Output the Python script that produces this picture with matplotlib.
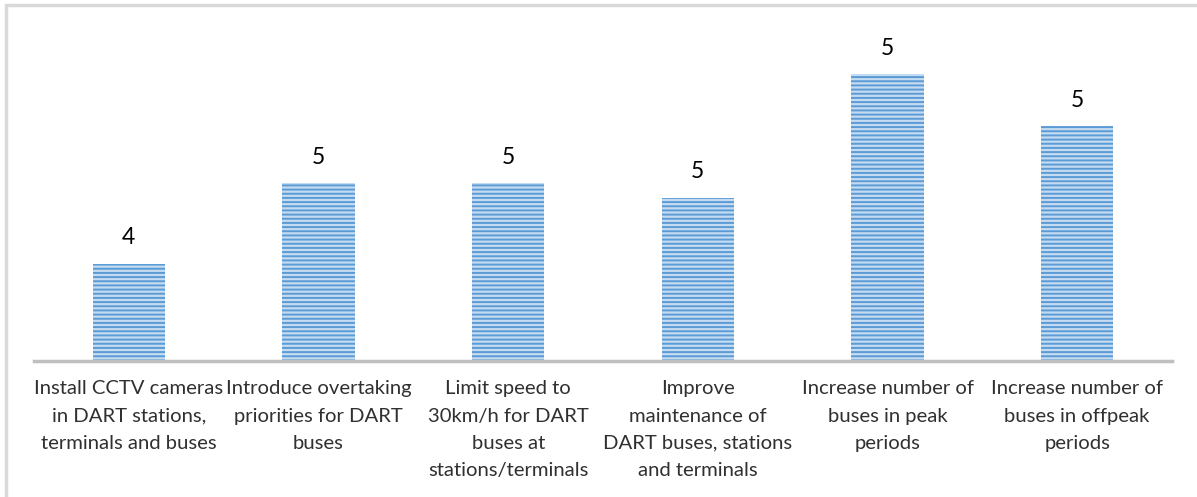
import matplotlib.pyplot as plt
from matplotlib.patches import Rectangle

# data
categories = [
    "Install CCTV cameras\nin DART stations,\nterminals and buses",
    "Introduce overtaking\npriorities for DART\nbuses",
    "Limit speed to\n30km/h for DART\nbuses at\nstations/terminals",
    "Improve\nmaintenance of\nDART buses, stations\nand terminals",
    "Increase number of\nbuses in peak\nperiods",
    "Increase number of\nbuses in offpeak\nperiods",
]
values = [4.34, 4.62, 4.62, 4.57, 5.00, 4.82]

plt.rcParams['font.family'] = ['Lato', 'DejaVu Sans']
plt.rcParams['hatch.linewidth'] = 1.4
plt.rcParams['hatch.color'] = '#5B9BD5'

fig = plt.figure(figsize=(11.97, 4.97), dpi=100)
W, H = 1197, 497

# light grey outer frame (only top/left visible in the original)
fig.patches.append(Rectangle((6 / W, -0.1), 1.2, (497 - 5) / H + 0.1,
                             transform=fig.transFigure, fill=False,
                             edgecolor='#D9D9D9', linewidth=2.5))

ax = fig.add_axes([34 / W, (H - 361) / H, (1172 - 34) / W, (361 - 20) / H])
x = range(len(categories))
bars = ax.bar(x, values, width=0.38, bottom=0, color='#C4DBF1',
              hatch='----', edgecolor='#5B9BD5', linewidth=0)
ax.set_ylim(4.0, 5.19)
ax.set_xlim(-0.5, len(categories) - 0.5)

for b, v in zip(bars, values):
    ax.annotate(f"{v:.0f}", (b.get_x() + b.get_width() / 2, v),
                xytext=(0, 11), textcoords='offset points',
                ha='center', va='bottom', fontsize=16.5, color='#000000')

ax.set_xticks(list(x))
ax.set_xticklabels(categories, fontsize=14.6, color='#303030', linespacing=1.72)
ax.tick_params(axis='x', length=0, pad=14)
ax.set_yticks([])
for s in ['top', 'right', 'left']:
    ax.spines[s].set_visible(False)
ax.spines['bottom'].set_color('#BFBFBF')
ax.spines['bottom'].set_linewidth(2.5)
for lbl in ax.get_xticklabels():
    lbl.set_verticalalignment('top')

fig.savefig('out.png', dpi=100)
